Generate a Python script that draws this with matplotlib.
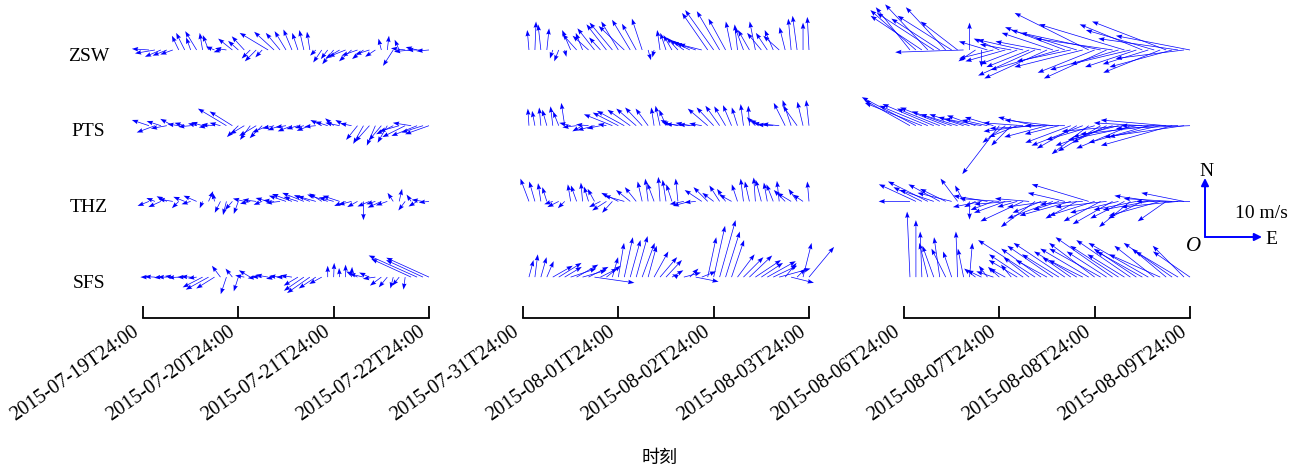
import numpy as np
import matplotlib
matplotlib.use('Agg')
import matplotlib.pyplot as plt
import matplotlib.transforms as mtransforms

plt.rcParams['font.family'] = ['Liberation Serif', 'DejaVu Serif']

# station names, top to bottom
stations = ['ZSW', 'PTS', 'THZ', 'SFS']
# tick labels of the three periods
ticks1 = ['2015-07-19T24:00', '2015-07-20T24:00', '2015-07-21T24:00', '2015-07-22T24:00']
ticks2 = ['2015-07-31T24:00', '2015-08-01T24:00', '2015-08-02T24:00', '2015-08-03T24:00']
ticks3 = ['2015-08-06T24:00', '2015-08-07T24:00', '2015-08-08T24:00', '2015-08-09T24:00']
# one sample every 1.5 h over 3 days
hours = np.arange(1.5, 72.01, 1.5)

# wind components (m/s), u east, v north -- period 1
zsw_u1 = [-3.0,-3.5,-2.8,-2.5,-2.2, -1.2,-1.5,-0.8,-2.0,-0.5,-1.0, -1.5,-1.2,-2.0, -2.5,-1.8,-2.2,
          -1.5,-2.0,-1.2, -5.0,-3.5,-2.5,-2.0,-1.5,-1.0,-0.8,-0.5, -1.0,-1.5,-1.2,-2.0,
          -2.5,-3.0,-2.2,-2.8,-2.0,-2.5,-1.8, -0.5,0.3,-1.8,-0.8, -2.5,-3.0,-2.0,-2.8,-2.2]
zsw_v1 = [0.2,-0.6,-1.2,-1.0,-0.8, 2.5,3.0,2.2,3.3,3.0,2.6, 0.6,-0.4,0.3, 2.0,1.6,2.4,
          -1.5,-2.0,-1.3, 3.0,3.2,3.0,3.3,3.6,3.0,3.5,3.2, -1.0,-2.2,-1.6,-2.5,
          -1.5,-1.2,-2.0,-1.0,-1.6,-0.8,-1.2, 2.0,2.5,-2.8,1.8, 0.3,-0.3,0.5,0.0,-0.2]
pts_u1 = [-3.0,-3.2,-2.5,-2.8,-2.2, -2.0,-1.8,-2.2,-1.5,-2.0,-1.7,-2.3,-1.9, -5.0,-4.0,
          -2.0,-2.5,-1.8,-3.0,-2.2,-2.8, -2.0,-2.2,-1.8,-2.5,-2.0,-1.6,-2.3,-2.0,
          -2.0,-2.2,-1.5,-2.5,-1.8,-2.0, -2.0,-1.8,-2.5,-1.5,-2.2,-1.7,
          -3.0,-3.5,-4.0,-3.2,-4.5,-3.8,-4.2]
pts_v1 = [1.0,-1.2,0.8,-0.5,1.2, 0.3,0.5,-0.2,0.4,0.6,-0.3,0.2,0.5, 3.0,2.5,
          -2.0,-1.5,-2.5,-1.8,-2.2,-1.2, -0.5,-0.8,-0.3,-1.0,-0.6,-0.4,-0.9,-0.2,
          1.0,0.7,1.3,0.5,1.0,0.4, -2.5,-3.2,-2.8,-3.5,-2.6,-3.0,
          -1.5,-1.0,-2.0,0.5,-1.8,-1.2,-1.5]
thz_u1 = [-2.0,-1.5,-2.2,-1.8,-2.5,-1.2,-2.0,-1.6,-2.3, -0.5,0.8,-0.3, -1.0,-0.6,-1.3,-0.8,
          -2.0,-1.8,-2.4,-1.5,-2.2,-1.9,-2.5, -3.0,-3.5,-2.5,-3.8,-2.8,-3.2,-2.2,-3.6,-2.6,-3.0,
          -2.0,-2.3,-1.8,0.0,-2.1,-1.6,-2.4,-2.0, -1.0,0.5,-1.2,-0.8,-1.5,-2.0,-1.8]
thz_v1 = [-0.8,0.6,-1.0,0.9,0.4,-1.2,0.8,-0.5,1.0, -1.2,1.8,1.5, -2.0,-2.4,-1.5,-2.2,
          0.5,-0.4,0.3,-0.6,0.6,0.2,-0.3, 1.0,1.3,0.8,1.5,1.1,0.9,1.4,1.2,0.7,1.0,
          -0.8,-0.6,-1.0,-3.3,-0.9,-0.5,-1.1,-0.7, 1.5,2.2,-1.6,1.2,-0.9,0.3,-0.2]
sfs_u1 = [-1.5,-1.8,-1.2,-1.6,-1.4,-1.9,-1.3,-1.7,-1.5, -3.5,-4.0,-3.2, -1.5,-1.0,-1.2,-0.8,
          -1.6,-2.0,-1.5,-1.8,-2.2,-1.4,-1.9,-1.7,-2.0, -2.5,-3.5,-4.0,-3.0,-2.2,
          0.0,0.1,-0.1,0.0,0.1, -2.0,-2.5,-1.8,-2.2, -2.0,-1.5,-0.5,-1.2,-0.3, -7.0,-8.5,-6.5,-7.5]
sfs_v1 = [0.0,0.1,-0.1,0.0,0.2,-0.1,0.0,0.1,-0.2, -1.8,-2.2,-2.0, 2.0,-3.0,1.5,-2.5,
          0.3,1.2,-0.2,0.1,0.4,-0.3,0.2,0.0,0.3, -1.5,-2.4,-2.8,-2.0,-1.2,
          2.0,2.5,1.6,2.2,1.8, 1.0,0.6,0.8,-0.3, -1.5,-1.8,-2.0,-1.5,-2.2, 3.2,3.8,3.0,3.4]

# period 2
zsw_u2 = [-0.3,0.2,-0.5,0.4, -0.5,-0.8,0.3, -1.5,-2.5,-1.2,-2.8,-3.0,-2.0,
          -3.5,-4.0,-3.0,-4.5,-3.2,-2.5,-1.8, 0.5,-0.3, -0.5,-1.0,-1.5,-2.0,-2.5,-3.0,-3.5,-4.0,
          -4.5,-5.0,-4.0,-3.0, -1.0,-0.5,-1.5,-2.0,-1.0,-2.5, -2.0,-1.5,-2.8,-1.0, -0.5,-0.8,0.0,-0.3]
zsw_v2 = [3.5,5.0,4.5,3.8, -1.5,-2.0,-1.2, 3.5,2.8,3.0,2.5,3.8,2.2,
          4.5,4.8,5.0,4.2,5.3,4.6,5.5, -1.8,-1.3, 3.5,3.0,2.6,2.2,1.8,1.5,1.2,1.0,
          6.5,7.0,6.8,5.5, 5.0,4.5,4.0,3.5,5.0,3.0, 3.0,3.5,2.5,4.0, 5.5,6.0,4.8,5.8]
pts_u2 = [-0.2,-0.5,-0.3,-0.8,-0.4,-1.0,-0.6, -2.0,-2.5,-1.8,-2.2,-3.0,-2.4,-1.5,
          -5.0,-4.5,-4.8,-4.0,-3.5,-3.0,-2.2, -0.5,-0.8,-1.2, -2.0,-2.8,-3.2,-2.5,-3.0,-2.2,
          -3.5,-3.0,-2.5,-2.0,-1.5,-1.0,-0.5,-0.2, -1.5,-2.0,-2.5,-2.8,-3.0, -2.0,-1.5,-2.5,-1.0,-0.5]
pts_v2 = [3.0,2.6,3.2,2.8,3.4,2.5,4.0, 0.5,-0.3,-1.0,0.2,-0.8,-0.5,0.3,
          2.0,2.3,2.6,2.8,3.0,3.2,3.0, 3.2,3.5,2.8, 1.0,0.6,0.3,0.5,0.2,0.4,
          3.0,3.2,3.5,3.4,3.6,3.2,3.8,3.5, 1.5,1.0,0.5,0.2,0.3, 4.0,4.5,3.5,4.2,4.5]
thz_u2 = [-1.5,-1.0,-0.5,-0.8, -1.5,-2.0,-1.2, -0.5,-1.0,-0.3,-0.8,-1.2, -2.0,-2.5,-1.8,
          -3.0,-3.5,-2.5,-2.0, -0.8,-0.5,-1.2,-0.3,-0.6,-1.0,-0.4, -2.5,-3.0,-2.0,
          -3.0,-2.5,-2.0,-1.8,-1.5,-2.2,-1.0, -0.5,-0.8,-0.3,-1.0,-0.6,-1.2,-0.4, -2.0,-2.5,-1.5,-1.8,-0.3]
thz_v2 = [4.0,3.5,3.2,2.5, -0.5,-1.0,-1.2, 3.0,2.8,3.3,2.6,2.2, -1.0,-1.6,-2.0,
          1.5,1.0,2.0,2.5, 3.5,4.0,3.2,4.3,3.8,3.0,4.0, -0.5,-0.8,-0.2,
          2.0,2.5,1.5,2.8,2.2,1.2,3.0, 4.0,3.5,4.2,3.8,3.3,3.0,3.6, 2.0,1.5,2.2,1.2,3.5]
sfs_u2 = [0.8,0.5,1.0,1.2, 3.5,4.0,3.0,4.5,3.8,4.2,3.5,7.0,3.0,2.5,1.0,
          1.0,1.5,1.8,2.0,2.2,1.5, 2.5,3.0,2.8, 2.0,-1.0,3.0,1.5,4.0,2.5,
          1.5,2.0,2.8,2.5,2.2, 3.0,3.5,4.0,4.5,3.8,5.0,4.2,5.5, 2.0,4.0,1.5, 1.5,4.4]
sfs_v2 = [3.0,4.0,3.5,2.8, 2.0,2.5,1.8,1.5,2.2,1.2,1.8,-1.0,1.5,2.0,3.5,
          6.0,7.0,6.5,7.2,6.0,5.5, 4.5,3.5,3.0, 1.2,0.5,0.8,1.5,-0.8,1.0,
          7.0,9.0,10.0,8.0,6.5, 4.0,3.5,3.8,3.0,2.5,2.8,2.0,1.5, 2.5,-1.0,1.5, 6.0,5.3]

# period 3
zsw_u3 = [-6.0,-8.0,-9.0,-7.5,-10.0,-8.5,-7.0,-9.5,-6.5, -12.0,0.0,-3.0,0.0,
          -5.0,-6.0,-4.5,-7.0,-5.5,-6.5,-8.0,-7.5, -10.0,-8.0,-11.0,-9.0,-12.0,-10.5,-9.5,-11.5,
          -12.0,-13.0,-10.0,-14.0,-11.0,-13.5,-12.0,-15.0,-10.5,
          -9.0,-11.0,-8.0,-12.0,-10.0,-13.0,-11.0,-14.0,-12.0,-13.0]
zsw_v3 = [7.5,7.0,6.0,8.0,6.5,5.5,7.5,6.0,5.0, -0.4,4.8,-2.0,-3.0,
          1.5,-1.5,2.0,-2.0,1.0,-2.5,1.8,-3.0, -4.5,1.5,-5.0,3.0,-3.5,4.0,-2.0,3.5,
          -3.0,6.5,-4.0,3.0,-5.0,2.0,-3.5,4.5,-2.5,
          -3.0,4.5,-2.5,3.5,-4.0,5.0,-3.0,2.0,-1.5,2.5]
pts_u3 = [-8.0,-9.5,-10.0,-8.5,-9.0,-7.5,-8.0,-7.0,-6.5, -6.0,-5.5,-5.0,-6.5,-4.5,-5.0,
          -6.5,-4.0,-3.5,-5.0, -7.0,-8.0,-6.5,-9.0,-7.5,-8.5,-6.0,-7.0,
          -8.0,-7.0,-9.0,-6.5,-8.5,-7.5,-6.0,
          -10.0,-8.0,-11.0,-9.5,-12.0,-8.5,-10.5,-13.0,-9.0,-11.5,-12.5,-10.0,-14.0,-13.0]
pts_v3 = [4.5,5.0,4.0,3.5,3.8,3.0,3.2,2.5,2.0, 2.0,1.5,1.8,1.2,1.0,1.5,
          -8.5,-3.0,-3.5,-2.0, 0.5,-1.0,1.5,-0.5,-2.0,1.0,-1.5,0.0,
          -3.0,-4.0,-3.5,-5.0,-2.5,-4.5,-3.0,
          -3.5,-2.0,-1.0,-4.0,-2.5,0.5,-3.0,-1.5,-2.0,1.0,-3.5,0.0,-2.0,-0.5]
thz_u3 = [-5.5,-6.5,-5.0,-7.0,-6.0,-5.5,-4.5,-6.0,-3.0,-1.5, 0.0,-2.0,
          -5.0,-6.0,-4.0,-7.0,-5.5,-6.5,-3.5,-7.5,-6.0,
          -6.0,-5.0,-7.0,-8.0,-4.5,-6.5,-9.0,-5.5,-7.5,
          -10.0,-8.0,-6.5,-9.0,-7.0,-8.5,-6.0,-5.5,-7.5,
          -6.0,-8.0,-7.0,-9.0,-5.0,-8.5,-10.0,-7.5,-9.5]
thz_v3 = [0.0,3.0,2.5,3.5,2.0,3.0,2.2,1.5,4.0,2.8, -3.2,-1.0,
          -1.0,1.0,-1.5,0.5,-2.0,-0.5,-1.0,-3.5,0.5,
          -4.5,-2.0,-1.0,-3.0,-1.5,1.5,-2.5,-3.0,-0.5,
          3.0,-2.5,-3.5,-1.0,-4.0,-2.0,-3.0,-4.5,-1.5,
          -3.0,-1.5,1.0,-2.5,-3.5,0.5,-1.0,1.5,0.0]
sfs_u3 = [-0.5,0.0,-0.3, -1.5,-2.0,-1.0,-2.5,-1.5,-0.3,-1.0,0.5,
          -2.0,-2.5,-1.5,-3.0,-2.0,-2.8,-1.8,
          -5.0,-6.0,-4.5,-10.0,-7.0,-5.5,-8.0,-6.5,-9.0,-5.0,-7.5,-6.0,-8.5,
          -8.0,-9.0,-7.0,-10.0,-8.5,-6.5,-9.5,-7.5,-8.0,-10.5,-7.0,-9.0,-6.0,-8.5,-7.5,-5.5,-6.5]
sfs_v3 = [11.5,10.0,8.0, 6.0,5.5,7.0,5.0,4.5,8.0,5.0,6.0,
          1.5,1.2,2.0,1.0,1.8,1.5,2.2,
          3.0,4.0,3.5,6.5,5.0,3.0,5.5,4.0,6.0,3.5,4.5,3.0,5.0,
          6.0,5.0,4.5,7.0,5.5,4.0,6.5,5.0,4.5,6.0,5.5,4.0,5.0,6.0,4.5,5.5,4.5]

periods = [
    (ticks1, [(zsw_u1, zsw_v1), (pts_u1, pts_v1), (thz_u1, thz_v1), (sfs_u1, sfs_v1)]),
    (ticks2, [(zsw_u2, zsw_v2), (pts_u2, pts_v2), (thz_u2, thz_v2), (sfs_u2, sfs_v2)]),
    (ticks3, [(zsw_u3, zsw_v3), (pts_u3, pts_v3), (thz_u3, thz_v3), (sfs_u3, sfs_v3)]),
]

W, H = 1292, 472
fig = plt.figure(figsize=(W / 100, H / 100), dpi=100)
lefts = [143, 523, 904]
axw = 286
bottom = 318
px_per_ms = 5.7   # 10 m/s ~ 57 px

axes = []
for k, (ticks, rows) in enumerate(periods):
    ax = fig.add_axes([lefts[k] / W, (H - bottom) / H, axw / W, bottom / H])
    axes.append(ax)
    for j, (u, v) in enumerate(rows):
        yrow = 3 - j
        ax.quiver(hours, np.full(len(hours), yrow), u, v, color='#0000ff',
                  units='dots', scale_units='dots', scale=1 / px_per_ms,
                  width=0.7, headwidth=6.5, headlength=9, headaxislength=8,
                  clip_on=False, zorder=3)
    ax.set_xlim(0, 72)
    ax.set_ylim(-0.54, 3.66)
    ax.set_xticks([0, 24, 48, 72])
    ax.set_xticklabels(ticks, rotation=35, ha='right', fontsize=14.5)
    ax.tick_params(axis='x', direction='in', length=9, width=1.3, pad=3)
    ax.set_yticks([])
    for s in ['left', 'right', 'top']:
        ax.spines[s].set_visible(False)
    ax.spines['bottom'].set_linewidth(1.3)
    ax.patch.set_alpha(0)

# station names to the left of the first panel
trans = mtransforms.blended_transform_factory(axes[0].transAxes, axes[0].transData)
for j, name in enumerate(stations):
    axes[0].text(-0.19, 3 - j - 0.08, name, transform=trans, ha='center', va='center', fontsize=14)

fig.text(660 / W, 1 - 458 / H, '时刻', ha='center', va='center', fontsize=13,
         family=['Noto Sans CJK SC', 'DejaVu Sans'])

# direction / scale key
ox, oy = 1205, 237
arr = dict(arrowstyle='-|>', color='#0000ff', lw=1.4, mutation_scale=11, shrinkA=0, shrinkB=0)
fig.add_artist(plt.Annotation('', xy=(ox / W, 1 - 178 / H), xytext=(ox / W, 1 - oy / H),
                              xycoords='figure fraction', arrowprops=arr))
fig.add_artist(plt.Annotation('', xy=(1262 / W, 1 - oy / H), xytext=(ox / W, 1 - oy / H),
                              xycoords='figure fraction', arrowprops=arr))
fig.text(1206 / W, 1 - 171 / H, 'N', ha='center', va='center', fontsize=14)
fig.text(1265 / W, 1 - 239 / H, 'E', ha='left', va='center', fontsize=14)
fig.text(1261 / W, 1 - 213 / H, '10 m/s', ha='center', va='center', fontsize=14)
fig.text(1194 / W, 1 - 246 / H, 'O', ha='center', va='center', fontsize=15, style='italic')

fig.savefig('out.png', dpi=100)
